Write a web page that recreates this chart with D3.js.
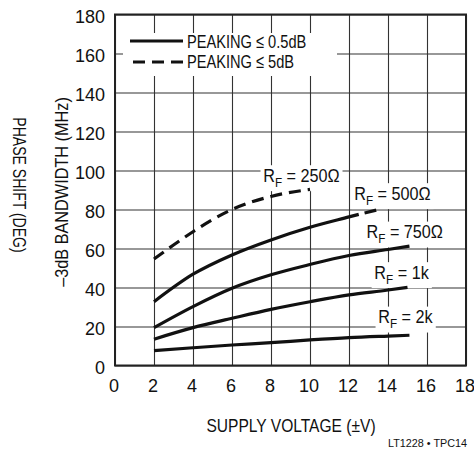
<!DOCTYPE html>
<html>
<head>
<meta charset="utf-8">
<script src="https://cdn.jsdelivr.net/npm/d3@7"></script>
<style>
  body { margin: 0; background: #fff; }
  svg { display: block; }
</style>
</head>
<body>
<svg id="chart" width="474" height="451"></svg>
<script>
// supply voltage (±V) vs -3dB bandwidth (MHz), one pair of arrays per R_F curve
const xTicks = [0, 2, 4, 6, 8, 10, 12, 14, 16, 18];
const yTicks = [0, 20, 40, 60, 80, 100, 120, 140, 160, 180];

const v250 = [2, 3, 4, 6, 8, 10];
const bw250 = [54.6, 61.8, 68.6, 80.0, 86.7, 90.3];

const v500 = [2, 4, 6, 8, 10, 12, 12.5];
const bw500 = [32.7, 46.8, 56.7, 64.4, 70.9, 76.2, 77.5];
const v500tail = [12.5, 13.4];
const bw500tail = [77.5, 79.7];

const v750 = [2, 4, 6, 8, 10, 12, 14, 15.1];
const bw750 = [19.4, 30.2, 39.6, 46.5, 51.8, 56.4, 59.5, 61.2];

const v1k = [2, 4, 6, 8, 10, 12, 14, 15];
const bw1k = [13.5, 19.4, 24.2, 28.8, 32.7, 36.2, 38.7, 40.1];

const v2k = [2, 4, 6, 8, 10, 12, 14, 15.1];
const bw2k = [7.6, 9.1, 10.5, 11.7, 13.1, 14.3, 15.1, 15.5];

const rfNames = ["250Ω", "500Ω", "750Ω", "1k", "2k"];
const legendNames = ["PEAKING ≤ 0.5dB", "PEAKING ≤ 5dB"];

const FONT = '"Liberation Sans", Arial, Helvetica, sans-serif';
const INK = "#111";

const svg = d3.select("#chart");
const plotL = 115, plotR = 466, plotT = 14.5, plotB = 365.5;

const x = d3.scaleLinear().domain([0, 18]).range([plotL, plotR]);
const y = d3.scaleLinear().domain([0, 180]).range([plotB, plotT]);

// grid + tick labels via axes
const gx = svg.append("g")
  .attr("transform", `translate(0,${plotB})`)
  .call(d3.axisBottom(x).tickValues(xTicks).tickSize(-(plotB - plotT)).tickPadding(14));
const gy = svg.append("g")
  .attr("transform", `translate(${plotL},0)`)
  .call(d3.axisLeft(y).tickValues(yTicks).tickSize(-(plotR - plotL)).tickPadding(10));

for (const g of [gx, gy]) {
  g.select(".domain").remove();
  g.selectAll("line").attr("stroke", "#333").attr("stroke-width", 1.1);
  g.selectAll("text").attr("fill", INK).style("font-family", FONT).style("font-size", "18px");
}
gx.selectAll("text").attr("x", -1.5);
gy.selectAll("text").attr("dy", "0.42em");

// frame
svg.append("rect")
  .attr("x", plotL).attr("y", plotT)
  .attr("width", plotR - plotL).attr("height", plotB - plotT)
  .attr("fill", "none").attr("stroke", "#222").attr("stroke-width", 2);

// condensed text: helvetica-condensed look from a regular face squeezed horizontally
function narrowText(parent, tf, size, k, str, anchor) {
  return parent.append("text")
    .attr("transform", `${tf} scale(${k},1)`)
    .attr("text-anchor", anchor || "start")
    .style("font-family", FONT).style("font-size", size + "px").attr("fill", INK)
    .text(str);
}

// axis titles
narrowText(svg, "translate(291,432)", 19, 0.82, "SUPPLY VOLTAGE (±V)", "middle");
narrowText(svg, "translate(68,192) rotate(-90)", 18.5, 0.88, "–3dB BANDWIDTH (MHz)", "middle");
narrowText(svg, "translate(13,185) rotate(90)", 18, 0.78, "PHASE SHIFT (DEG)", "middle");

svg.append("text")
  .attr("x", 467).attr("y", 447)
  .attr("text-anchor", "end")
  .style("font-family", FONT).style("font-size", "10.8px").attr("fill", INK)
  .text("LT1228 • TPC14");

// white boxes knocking out the grid behind labels
function knockout(g, pad) {
  const b = g.node().getBBox();
  g.insert("rect", ":first-child")
    .attr("x", b.x - pad[0]).attr("y", b.y - pad[1])
    .attr("width", b.width + 2 * pad[0]).attr("height", b.height + 2 * pad[1])
    .attr("fill", "#fff");
}

function rfLabel(name, vx, vy) {
  const g = svg.append("g")
    .attr("transform", `translate(${x(vx)},${y(vy)}) scale(0.9,1)`);
  const t = g.append("text")
    .style("font-family", FONT).style("font-size", "18px").attr("fill", INK);
  t.append("tspan").text("R");
  t.append("tspan").attr("dy", 5).style("font-size", "13px").text("F");
  t.append("tspan").attr("dy", -5).text(" = " + name);
  knockout(g, [3, 1]);
}

// legend (box spans from the frame edge to just short of the 12V gridline)
const lg = svg.append("g");
lg.append("rect").attr("x", 123).attr("y", 33).attr("width", 214).attr("height", 43).attr("fill", "#fff");
lg.append("line").attr("x1", 130).attr("x2", 183).attr("y1", 41).attr("y2", 41)
  .attr("stroke", INK).attr("stroke-width", 3);
lg.append("line").attr("x1", 133).attr("x2", 183).attr("y1", 62).attr("y2", 62)
  .attr("stroke", INK).attr("stroke-width", 3).attr("stroke-dasharray", "12,7");
legendNames.forEach((d, i) => narrowText(lg, `translate(187,${48 + i * 20})`, 19, 0.77, d));

rfLabel(rfNames[0], 7.6, 94.1);
rfLabel(rfNames[1], 12.27, 84.9);
rfLabel(rfNames[2], 12.9, 65.2);
rfLabel(rfNames[3], 13.3, 44.4);
rfLabel(rfNames[4], 13.5, 21.6);

// curves
const line = d3.line().x(d => x(d[0])).y(d => y(d[1])).curve(d3.curveMonotoneX);
const curves = [
  { v: v250, bw: bw250, dash: "12,7" },
  { v: v500, bw: bw500, dash: null },
  { v: v500tail, bw: bw500tail, dash: "12,6", offset: 12 },
  { v: v750, bw: bw750, dash: null },
  { v: v1k, bw: bw1k, dash: null },
  { v: v2k, bw: bw2k, dash: null }
];
svg.append("g").selectAll("path").data(curves).join("path")
  .attr("d", c => line(d3.zip(c.v, c.bw)))
  .attr("fill", "none")
  .attr("stroke", INK)
  .attr("stroke-width", 3.2)
  .attr("stroke-dasharray", c => c.dash)
  .attr("stroke-dashoffset", c => c.offset || 0);
</script>
</body>
</html>
